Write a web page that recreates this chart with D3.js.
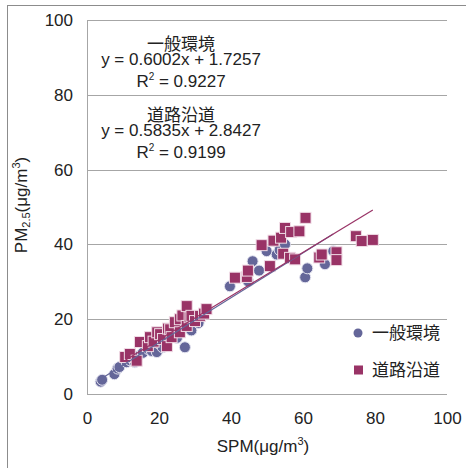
<!DOCTYPE html>
<html lang="ja">
<head>
  <meta charset="UTF-8">
  <title>SPM - PM2.5</title>
  <style>
    body { margin: 0; background: #fff; }
    text { font-family: "Liberation Sans", "Noto Sans CJK JP", sans-serif; fill: #222; }
  </style>
</head>
<body>
  <script src="https://cdn.jsdelivr.net/npm/d3@7/dist/d3.min.js"></script>
  <script>
// 系列名
const seriesNames = ['一般環境', '道路沿道']

// 一般環境 (SPM, PM2.5)
const ippanX = [3.8, 4.2, 7.6, 8.5, 9.0, 11, 12, 13.3, 14, 15.5, 17, 18, 19.4, 20, 21, 22, 23, 24, 25, 26, 27, 27.2, 28, 29, 30, 31, 32, 33,
                39.7, 44.8, 46, 47.8, 49.9, 51.8, 52.7, 53.5, 55, 60.6, 61.2, 66.1, 68.4]
const ippanY = [3.3, 3.8, 5.3, 6.8, 7.2, 8.5, 9, 8.5, 10, 11, 12, 11.5, 11.2, 13.5, 12.5, 14, 15, 16, 15, 17, 18, 12.5, 19, 17, 20, 19, 21, 22,
                28.8, 30.1, 35.5, 33, 38.2, 40.9, 37.3, 38.5, 40, 31.2, 33.6, 34.7, 38.2]

// 道路沿道 (SPM, PM2.5)
const dorouX = [10.6, 11.9, 13.8, 14.7, 16.9, 17.5, 18.5, 19.5, 20.3, 21.1, 22.2, 22.5, 23.1, 23.5, 24.4, 25.8, 25.8, 26.5, 27.7, 27.7, 28.5, 29, 30, 31.4, 32.5, 33.2,
                41.1, 44.4, 44.7, 48.5, 50.8, 51.8, 53.9, 55, 56.7, 59, 60.7, 54.5, 56.4, 57.8, 64.5, 65.2, 69.3, 69.3, 74.7, 76.3, 79.4]
const dorouY = [9.9, 10.7, 8.9, 13.9, 12.8, 15.2, 14, 16.5, 16, 14.7, 12.8, 17.5, 17.3, 15.2, 19.2, 20, 16.5, 21, 23.5, 18.2, 20.5, 20.9, 19.5, 20.9, 21.5, 22.7,
                31.1, 31.3, 33, 39.8, 34.2, 41, 41.8, 44.4, 43.3, 43.5, 47.1, 37.5, 36.4, 36, 36.5, 37.3, 37.9, 35.8, 42.2, 40.9, 41.2]

// 近似直線
const slopes = [0.6002, 0.5835]
const intercepts = [1.7257, 2.8427]
const r2 = ['0.9227', '0.9199']

// 目盛
const xTicks = [0, 20, 40, 60, 80, 100]
const yTicks = [0, 20, 40, 60, 80, 100]

const colors = ['#646699', '#993366']

const width = 466
const height = 468
const margin = { top: 20, right: 19, bottom: 74, left: 87 }
const innerWidth = width - margin.left - margin.right   // 360
const innerHeight = height - margin.top - margin.bottom // 374

const svg = d3.select('body').append('svg')
  .attr('width', width)
  .attr('height', height)

// 外枠
svg.append('rect')
  .attr('x', 7.5).attr('y', 5.5)
  .attr('width', 480).attr('height', 480)
  .attr('fill', 'none')
  .attr('stroke', '#8c8c8c')

const xScale = d3.scaleLinear().domain([0, 100]).range([0, innerWidth])
const yScale = d3.scaleLinear().domain([0, 100]).range([innerHeight, 0])

const g = svg.append('g')
  .attr('transform', `translate(${margin.left}, ${margin.top})`)

// 横グリッド
g.selectAll('.grid')
  .data(yTicks)
  .enter().append('line')
  .attr('class', 'grid')
  .attr('x1', 0).attr('x2', innerWidth)
  .attr('y1', d => Math.round(yScale(d)) + 0.5)
  .attr('y2', d => Math.round(yScale(d)) + 0.5)
  .attr('stroke', '#a6a6a6')

// y 軸線
g.append('line')
  .attr('x1', 0.5).attr('x2', 0.5)
  .attr('y1', 0).attr('y2', innerHeight)
  .attr('stroke', '#a6a6a6')

// 軸ラベル
const yAxis = d3.axisLeft(yScale).tickValues(yTicks).tickSize(0).tickPadding(14)
const yg = g.append('g').call(yAxis)
yg.select('.domain').remove()
yg.selectAll('text').attr('font-size', 17).attr('font-family', null).attr('fill', '#222')

const xAxis = d3.axisBottom(xScale).tickValues(xTicks).tickSize(0).tickPadding(18)
const xg = g.append('g').attr('transform', `translate(0, ${innerHeight})`).call(xAxis)
xg.select('.domain').remove()
xg.selectAll('text').attr('font-size', 17).attr('font-family', null).attr('fill', '#222')

// 一般環境 (丸)
const ippan = ippanX.map((x, i) => ({ x, y: ippanY[i] }))
g.selectAll('.ippan')
  .data(ippan)
  .enter().append('circle')
  .attr('class', 'ippan')
  .attr('cx', d => xScale(d.x))
  .attr('cy', d => yScale(d.y))
  .attr('r', 5.5)
  .attr('fill', colors[0])
  .attr('stroke', '#e4e4f0')
  .attr('stroke-width', 1)

// 道路沿道 (四角)
const dorou = dorouX.map((x, i) => ({ x, y: dorouY[i] }))
const sq = 11
g.selectAll('.dorou')
  .data(dorou)
  .enter().append('rect')
  .attr('class', 'dorou')
  .attr('x', d => xScale(d.x) - sq / 2)
  .attr('y', d => yScale(d.y) - sq / 2)
  .attr('width', sq).attr('height', sq)
  .attr('fill', colors[1])
  .attr('stroke', '#f0dce6')
  .attr('stroke-width', 1)

// 近似直線
const xsAll = [ippanX, dorouX]
slopes.forEach((m, i) => {
  const [x0, x1] = d3.extent(xsAll[i])
  g.append('line')
    .attr('x1', xScale(x0)).attr('y1', yScale(m * x0 + intercepts[i]))
    .attr('x2', xScale(x1)).attr('y2', yScale(m * x1 + intercepts[i]))
    .attr('stroke', colors[i])
    .attr('stroke-width', 1.2)
})

// 回帰式
const eqTop = [50, 121]
const eq = svg.append('g').attr('text-anchor', 'middle').attr('font-size', 17)
slopes.forEach((m, i) => {
  const y0 = eqTop[i]
  eq.append('text').attr('x', 181).attr('y', y0).text(seriesNames[i])
  eq.append('text').attr('x', 181).attr('y', y0 + 15)
    .text(`y = ${m.toFixed(4)}x + ${intercepts[i].toFixed(4)}`)
  const t = eq.append('text').attr('x', 181).attr('y', y0 + 37)
  t.append('tspan').text('R')
  t.append('tspan').attr('font-size', 10).attr('dy', -7).text('2')
  t.append('tspan').attr('dy', 7).text(` = ${r2[i]}`)
})

// 凡例
const legend = svg.append('g').attr('font-size', 17)
seriesNames.forEach((name, i) => {
  const cy = 333 + i * 37
  if (i === 0) {
    legend.append('circle').attr('cx', 358).attr('cy', cy).attr('r', 4.5).attr('fill', colors[0])
  } else {
    legend.append('rect').attr('x', 354).attr('y', cy - 4.5).attr('width', 9).attr('height', 9).attr('fill', colors[1])
  }
  legend.append('text').attr('x', 372).attr('y', cy).attr('dy', '0.35em').text(name)
})

// x 軸タイトル
const xt = svg.append('text')
  .attr('x', margin.left + innerWidth / 2 - 4)
  .attr('y', 452)
  .attr('text-anchor', 'middle')
  .attr('font-size', 17)
xt.append('tspan').text('SPM(μg/m')
xt.append('tspan').attr('font-size', 11).attr('dy', -7).text('3')
xt.append('tspan').attr('dy', 7).text(')')

// y 軸タイトル
const yt = svg.append('text')
  .attr('transform', 'translate(27, 205) rotate(-90)')
  .attr('text-anchor', 'middle')
  .attr('font-size', 17)
yt.append('tspan').text('PM')
yt.append('tspan').attr('font-size', 11).attr('dy', 3).text('2.5')
yt.append('tspan').attr('dy', -3).text('(μg/m')
yt.append('tspan').attr('font-size', 11).attr('dy', -7).text('3')
yt.append('tspan').attr('dy', 7).text(')')
  </script>
</body>
</html>
